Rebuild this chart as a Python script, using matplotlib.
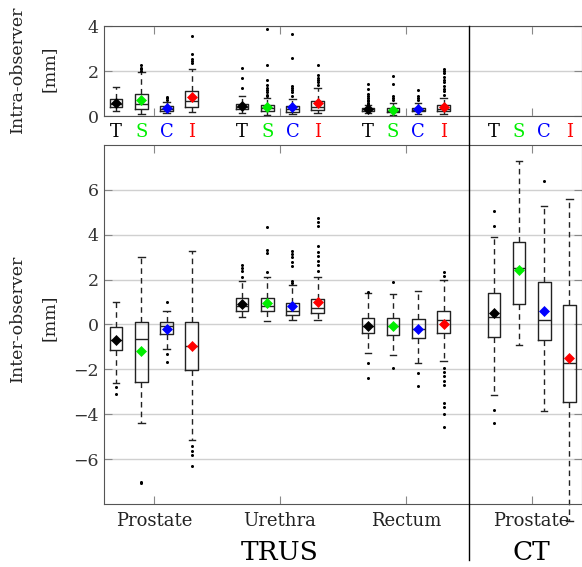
import numpy as np
import matplotlib
matplotlib.use('Agg')
import matplotlib.pyplot as plt
from matplotlib.lines import Line2D

plt.rcParams['font.family'] = ['DejaVu Serif']

# ---- data ----
methods = ['T', 'S', 'C', 'I']
method_colors = ['black', '#00ee00', 'blue', 'red']
groups = ['Prostate', 'Urethra', 'Rectum', 'Prostate']
modalities = ['TRUS', 'CT']

# intra-observer (TRUS only: prostate, urethra, rectum x T S C I)
intra_lo = [0.22, 0.08, 0.15, 0.16, 0.15, 0.05, 0.08, 0.12, 0.14, 0.05, 0.10, 0.10]
intra_q1 = [0.39, 0.31, 0.24, 0.41, 0.31, 0.24, 0.18, 0.27, 0.24, 0.16, 0.21, 0.24]
intra_med = [0.55, 0.52, 0.33, 0.67, 0.42, 0.36, 0.30, 0.39, 0.30, 0.22, 0.28, 0.33]
intra_q3 = [0.76, 0.96, 0.44, 1.11, 0.55, 0.48, 0.44, 0.68, 0.37, 0.34, 0.37, 0.48]
intra_hi = [1.27, 1.95, 0.64, 2.09, 0.90, 0.81, 0.76, 1.23, 0.50, 0.60, 0.60, 0.79]
intra_mean = [0.58, 0.72, 0.36, 0.83, 0.44, 0.39, 0.38, 0.56, 0.30, 0.28, 0.30, 0.41]
intra_fliers = [
    [],
    [2.02, 2.08, 2.15, 2.25],
    [0.72, 0.80, 0.85],
    [2.35, 2.45, 2.55, 2.75, 3.57],
    [1.23, 1.67, 2.12],
    [0.88, 0.95, 1.05, 1.15, 1.25, 1.40, 1.60, 2.28, 3.87],
    [0.90, 1.05, 1.15, 1.25, 1.32, 2.60, 3.65],
    [1.38, 1.50, 1.60, 1.70, 1.82, 2.27],
    [0.55, 0.60, 0.65, 0.72, 0.80, 0.87, 1.00, 1.19, 1.42],
    [0.70, 0.80, 0.90, 1.41, 1.78],
    [0.70, 0.80, 0.90, 1.16],
    [0.95, 1.10, 1.20, 1.35, 1.50, 1.60, 1.75, 1.90, 2.00, 2.07],
]

# inter-observer (TRUS prostate, urethra, rectum, CT prostate x T S C I)
inter_lo = [-2.62, -4.40, -1.11, -5.14, 0.34, 0.15, 0.19, 0.22,
            -1.29, -1.36, -1.73, -1.63, -3.14, -0.92, -3.85, -8.74]
inter_q1 = [-1.14, -2.55, -0.41, -2.01, 0.58, 0.58, 0.44, 0.50,
            -0.40, -0.47, -0.62, -0.40, -0.55, 0.92, -0.71, -3.44]
inter_med = [-0.70, -0.64, -0.07, -0.96, 0.81, 0.84, 0.62, 0.74,
             -0.07, -0.07, -0.19, 0.21, 0.33, 2.52, 0.21, -1.70]
inter_q3 = [-0.12, 0.09, 0.09, 0.10, 1.16, 1.17, 0.96, 1.14,
            0.28, 0.30, 0.25, 0.58, 1.41, 3.69, 1.91, 0.89]
inter_hi = [1.02, 3.02, 0.58, 3.29, 1.93, 2.10, 1.75, 2.10,
            1.41, 1.36, 1.51, 1.97, 3.91, 7.30, 5.26, 5.61]
inter_mean = [-0.71, -1.20, -0.19, -0.97, 0.93, 0.98, 0.81, 1.02,
              -0.05, -0.05, -0.19, 0.03, 0.50, 2.44, 0.61, -1.48]
inter_fliers = [
    [-2.80, -3.08],
    [-7.00, -7.08],
    [0.99, -1.30, -1.66],
    [-5.41, -5.63, -5.82, -6.30],
    [2.12, 2.37, 2.50, 2.64],
    [2.33, 3.19, 3.33, 4.34],
    [1.85, 1.95, 2.62, 2.80, 3.00, 3.15, 3.29],
    [2.40, 2.65, 2.85, 3.05, 3.25, 3.50, 4.40, 4.55, 4.76],
    [1.45, -1.70, -2.38],
    [1.90, -1.96],
    [-2.15, -2.74],
    [2.18, 2.33, -1.93, -2.10, -2.30, -2.50, -2.70, -3.48, -3.68, -4.00, -4.56],
    [4.37, 5.08, -3.81, -4.40],
    [],
    [6.40],
    [],
]


def positions_for(n_groups):
    return [g * 5 + k + 1 for g in range(n_groups) for k in range(4)]


def draw_boxes(ax, lo, q1, med, q3, hi, mean, fliers, pos):
    stats = []
    for i in range(len(pos)):
        stats.append(dict(whislo=lo[i], q1=q1[i], med=med[i], q3=q3[i],
                          whishi=hi[i], mean=mean[i], fliers=fliers[i]))
    res = ax.bxp(stats, positions=pos, widths=0.5, capwidths=0.25,
                 showmeans=True, manage_ticks=False,
                 boxprops=dict(color='#222222', lw=1),
                 medianprops=dict(color='#222222', lw=1),
                 whiskerprops=dict(color='#222222', lw=1, linestyle=(0, (4, 3))),
                 capprops=dict(color='#222222', lw=1),
                 flierprops=dict(marker='o', markersize=2.2, markerfacecolor='black',
                                 markeredgewidth=0, linestyle='none'),
                 meanprops=dict(marker='D', markersize=4.6, markeredgewidth=0.5))
    for i, m in enumerate(res['means']):
        c = method_colors[i % 4]
        m.set_markerfacecolor(c)
        m.set_markeredgecolor(c)
        m.set_zorder(4)
    return res


def style_axes(ax, ylim, yticks):
    ax.set_xlim(0.5, 19.5)
    ax.set_ylim(*ylim)
    ax.set_yticks(yticks)
    ax.set_yticklabels([str(t).replace('-', '\u2212') for t in yticks])
    ax.set_xticks([2.5, 7.5, 12.5, 17.5])
    ax.set_xticklabels([])
    ax.yaxis.grid(True, color='#d0d0d0', lw=1)
    ax.set_axisbelow(True)
    ax.tick_params(direction='in', which='both', top=True, right=True,
                   color='#888888', length=6, labelsize=12.5, labelcolor='#333333')
    for s in ax.spines.values():
        s.set_color('#555555')


fig = plt.figure(figsize=(5.82, 5.67), dpi=100)
ax_top = fig.add_axes([0.178, 0.7954, 0.822, 0.1587])
ax_bot = fig.add_axes([0.178, 0.1111, 0.822, 0.6332])

pos_intra = positions_for(3)
pos_inter = positions_for(4)

draw_boxes(ax_top, intra_lo, intra_q1, intra_med, intra_q3, intra_hi,
           intra_mean, intra_fliers, pos_intra)
res = draw_boxes(ax_bot, inter_lo, inter_q1, inter_med, inter_q3, inter_hi,
                 inter_mean, inter_fliers, pos_inter)
# CT "I" lower whisker runs past the axis
res['whiskers'][-2].set_clip_on(False)
res['caps'][-2].set_clip_on(False)

style_axes(ax_top, (0, 4), [0, 2, 4])
style_axes(ax_bot, (-8, 8), [-6, -4, -2, 0, 2, 4, 6])

# T S C I labels under the top panel
for p in positions_for(4):
    k = (p - 1) % 5
    ax_top.text(p, -0.3, methods[k], color=method_colors[k], fontsize=13,
                ha='center', va='top')

# group labels and modality labels
for g, name in enumerate(groups):
    ax_bot.text(g * 5 + 2.5, -8.35, name, fontsize=13, ha='center', va='top',
                color='#222222')
ax_bot.text(7.5, -9.6, modalities[0], fontsize=19, ha='center', va='top')
ax_bot.text(17.5, -9.6, modalities[1], fontsize=19, ha='center', va='top')

# y labels (two lines each)
W, H = 582.0, 567.0
for yc, name in [(69, 'Intra-observer'), (318, 'Inter-observer')]:
    fig.text(17 / W, 1 - yc / H, name, rotation=90, fontsize=12.5,
             ha='center', va='center', color='#222222')
    fig.text(49 / W, 1 - yc / H, '[mm]', rotation=90, fontsize=12.5,
             ha='center', va='center', color='#222222')

# separator between TRUS and CT
x_sep = ax_bot.transData.transform((15, 0))[0] / fig.bbox.width
fig.add_artist(Line2D([x_sep, x_sep], [1 - 26 / H, 1 - 560 / H],
                      color='black', lw=1, transform=fig.transFigure))

fig.savefig('out.png', dpi=100)
